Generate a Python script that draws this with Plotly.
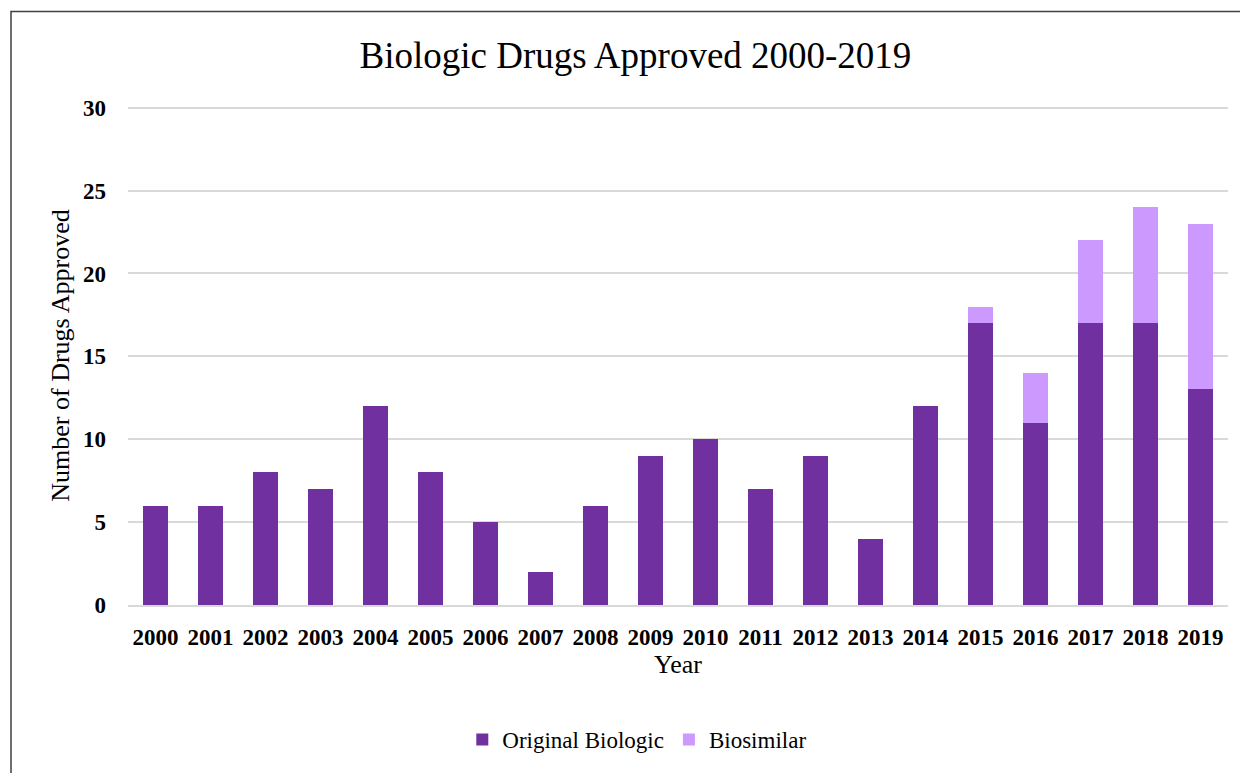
import plotly.graph_objects as go

years = [str(y) for y in range(2000, 2020)]
original = [6, 6, 8, 7, 12, 8, 5, 2, 6, 9, 10, 7, 9, 4, 12, 17, 11, 17, 17, 13]
biosimilar = [0, 0, 0, 0, 0, 0, 0, 0, 0, 0, 0, 0, 0, 0, 0, 1, 3, 5, 7, 10]
y_ticks = [0, 5, 10, 15, 20, 25, 30]

FONT = "Liberation Serif, Times New Roman, serif"

fig = go.Figure()
fig.add_trace(go.Bar(x=years, y=original, name="Original Biologic",
                     marker=dict(color="#7030A0", line=dict(width=0))))
fig.add_trace(go.Bar(x=years, y=biosimilar, name="Biosimilar",
                     marker=dict(color="#CC99FF", line=dict(width=0))))

# page has an 8px body margin, so the figure is sized/positioned accordingly
W, H = 1240, 765
L, R, T, B = 120, 20, 98, 166
pw, ph = W - L - R, H - T - B

fig.update_layout(
    width=W, height=H,
    barmode="stack", bargap=0.56,
    plot_bgcolor="white", paper_bgcolor="white",
    margin=dict(l=L, r=R, t=T, b=B),
    font=dict(family=FONT, color="black"),
    title=dict(text="Biologic Drugs Approved 2000-2019", x=0.506, xanchor="center",
               y=1 - 47 / H, yanchor="middle", font=dict(size=37, family=FONT, color="black")),
    legend=dict(orientation="h", x=0.463, xanchor="center", y=-(734 - (H - B)) / ph, yanchor="middle",
                font=dict(size=23, family=FONT), traceorder="normal"),
    xaxis=dict(showgrid=False, showline=True, linecolor="#d9d9d9", linewidth=2,
               tickfont=dict(size=23, family=FONT, color="black", weight="bold"),
               ticks="", ticklabelstandoff=10,
               title=dict(text="Year", font=dict(size=26, family=FONT), standoff=6)),
    yaxis=dict(range=[0, 30.1], tickvals=y_ticks, showgrid=True, gridcolor="#d9d9d9", gridwidth=1.5,
               zeroline=False, showline=False,
               tickfont=dict(size=23, family=FONT, color="black", weight="bold"),
               ticks="", ticklabelstandoff=21,
               title=dict(text="Number of Drugs Approved", font=dict(size=26, family=FONT), standoff=5)),
    showlegend=True,
)

# outer border (chart area frame)
fig.add_shape(type="rect", xref="paper", yref="paper",
              x0=(3 - L) / pw, x1=(W + 20 - L) / pw,
              y0=-(B + 20) / ph, y1=1 + (T - 3) / ph,
              line=dict(color="#404040", width=1.5), fillcolor="rgba(0,0,0,0)", layer="below")

fig.write_html("out.html")
